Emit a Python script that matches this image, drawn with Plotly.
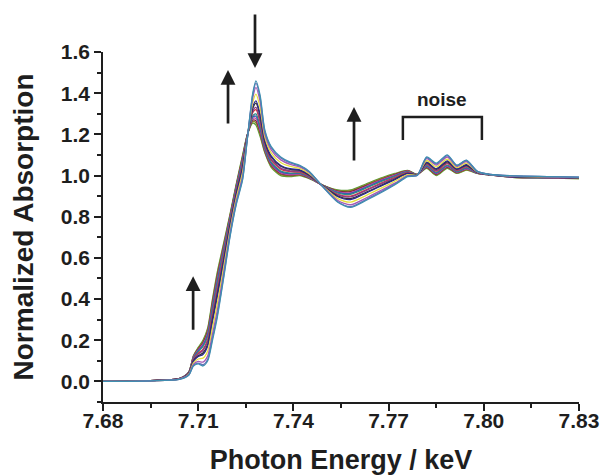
import plotly.graph_objects as go

# Photon energy grid (keV)
energy = [7.680, 7.695, 7.704, 7.707, 7.7085, 7.710, 7.7115, 7.713, 7.7145, 7.716,
          7.718, 7.720, 7.722, 7.724, 7.7255, 7.7272, 7.7282, 7.7295, 7.731, 7.733,
          7.736, 7.739, 7.742, 7.745, 7.749, 7.754, 7.758, 7.763, 7.768, 7.772,
          7.776, 7.779, 7.782, 7.785, 7.7885, 7.7915, 7.7945, 7.798, 7.802, 7.810,
          7.820, 7.830]

s01 = [0.000, 0.003, 0.010, 0.030, 0.075, 0.085, 0.075, 0.100, 0.200, 0.310, 0.500, 0.700, 0.860, 0.980, 1.180, 1.400, 1.460, 1.390, 1.220, 1.140, 1.090, 1.065, 1.050, 1.020, 0.950, 0.870, 0.845, 0.880, 0.920, 0.955, 0.995, 1.000, 1.090, 1.060, 1.100, 1.050, 1.075, 1.020, 1.005, 0.998, 0.995, 0.992]
s02 = [0.000, 0.003, 0.010, 0.031, 0.078, 0.089, 0.081, 0.108, 0.210, 0.321, 0.509, 0.706, 0.865, 0.986, 1.181, 1.393, 1.449, 1.380, 1.214, 1.135, 1.085, 1.061, 1.047, 1.018, 0.950, 0.873, 0.849, 0.884, 0.924, 0.958, 0.997, 1.000, 1.087, 1.057, 1.097, 1.048, 1.073, 1.020, 1.005, 0.998, 0.995, 0.992]
s03 = [0.000, 0.003, 0.011, 0.032, 0.083, 0.097, 0.094, 0.124, 0.230, 0.343, 0.526, 0.717, 0.875, 0.998, 1.183, 1.378, 1.428, 1.360, 1.203, 1.125, 1.076, 1.054, 1.042, 1.015, 0.951, 0.879, 0.858, 0.892, 0.931, 0.963, 1.000, 1.001, 1.082, 1.051, 1.090, 1.044, 1.068, 1.019, 1.005, 0.997, 0.994, 0.991]
s04 = [0.000, 0.003, 0.011, 0.035, 0.090, 0.109, 0.113, 0.148, 0.260, 0.376, 0.551, 0.733, 0.890, 1.016, 1.186, 1.356, 1.395, 1.330, 1.187, 1.110, 1.063, 1.044, 1.035, 1.009, 0.952, 0.888, 0.871, 0.904, 0.941, 0.972, 1.004, 1.002, 1.073, 1.042, 1.080, 1.038, 1.060, 1.017, 1.004, 0.996, 0.993, 0.990]
s05 = [0.000, 0.003, 0.012, 0.037, 0.098, 0.121, 0.131, 0.172, 0.290, 0.409, 0.577, 0.750, 0.905, 1.034, 1.189, 1.335, 1.363, 1.300, 1.170, 1.095, 1.049, 1.033, 1.027, 1.004, 0.952, 0.897, 0.883, 0.916, 0.952, 0.980, 1.009, 1.002, 1.065, 1.033, 1.071, 1.032, 1.053, 1.016, 1.004, 0.994, 0.992, 0.989]
s06 = [0.000, 0.004, 0.012, 0.038, 0.100, 0.125, 0.138, 0.180, 0.300, 0.420, 0.585, 0.755, 0.910, 1.040, 1.190, 1.327, 1.352, 1.290, 1.165, 1.090, 1.045, 1.030, 1.025, 1.002, 0.953, 0.900, 0.888, 0.920, 0.955, 0.983, 1.010, 1.003, 1.062, 1.030, 1.067, 1.030, 1.050, 1.015, 1.004, 0.994, 0.992, 0.989]
s07 = [0.000, 0.004, 0.012, 0.039, 0.105, 0.133, 0.150, 0.196, 0.320, 0.442, 0.602, 0.766, 0.920, 1.052, 1.192, 1.313, 1.331, 1.270, 1.154, 1.080, 1.036, 1.023, 1.020, 0.999, 0.953, 0.906, 0.896, 0.928, 0.962, 0.988, 1.013, 1.003, 1.057, 1.024, 1.061, 1.026, 1.046, 1.014, 1.004, 0.993, 0.991, 0.988]
s08 = [0.000, 0.004, 0.013, 0.040, 0.108, 0.137, 0.156, 0.204, 0.330, 0.453, 0.611, 0.772, 0.925, 1.058, 1.193, 1.306, 1.320, 1.260, 1.148, 1.075, 1.031, 1.019, 1.017, 0.997, 0.953, 0.909, 0.900, 0.932, 0.966, 0.991, 1.015, 1.003, 1.054, 1.021, 1.058, 1.024, 1.043, 1.014, 1.004, 0.993, 0.990, 0.987]
s09 = [0.000, 0.004, 0.013, 0.041, 0.113, 0.145, 0.169, 0.220, 0.350, 0.475, 0.628, 0.783, 0.935, 1.070, 1.195, 1.291, 1.299, 1.240, 1.137, 1.065, 1.022, 1.012, 1.012, 0.994, 0.954, 0.915, 0.909, 0.940, 0.973, 0.996, 1.018, 1.004, 1.049, 1.015, 1.051, 1.020, 1.038, 1.013, 1.004, 0.992, 0.990, 0.987]
s10 = [0.000, 0.004, 0.013, 0.042, 0.115, 0.149, 0.175, 0.228, 0.360, 0.486, 0.636, 0.788, 0.940, 1.076, 1.196, 1.284, 1.288, 1.230, 1.132, 1.060, 1.018, 1.009, 1.010, 0.992, 0.954, 0.918, 0.913, 0.944, 0.976, 0.999, 1.019, 1.004, 1.046, 1.012, 1.048, 1.018, 1.036, 1.012, 1.003, 0.992, 0.989, 0.986]
s11 = [0.000, 0.004, 0.013, 0.043, 0.118, 0.153, 0.181, 0.236, 0.370, 0.497, 0.645, 0.794, 0.945, 1.082, 1.197, 1.277, 1.277, 1.220, 1.126, 1.055, 1.013, 1.005, 1.007, 0.990, 0.954, 0.921, 0.917, 0.948, 0.980, 1.002, 1.021, 1.004, 1.043, 1.009, 1.045, 1.016, 1.033, 1.012, 1.003, 0.991, 0.989, 0.986]
s12 = [0.000, 0.004, 0.014, 0.044, 0.120, 0.157, 0.188, 0.244, 0.380, 0.508, 0.653, 0.799, 0.950, 1.088, 1.198, 1.269, 1.266, 1.210, 1.121, 1.050, 1.009, 1.002, 1.005, 0.988, 0.955, 0.924, 0.922, 0.952, 0.983, 1.005, 1.022, 1.005, 1.040, 1.006, 1.041, 1.014, 1.031, 1.011, 1.003, 0.991, 0.989, 0.986]
s13 = [0.000, 0.004, 0.014, 0.044, 0.123, 0.161, 0.194, 0.252, 0.390, 0.519, 0.662, 0.805, 0.955, 1.094, 1.199, 1.262, 1.256, 1.200, 1.115, 1.045, 1.004, 0.998, 1.002, 0.987, 0.955, 0.927, 0.926, 0.956, 0.987, 1.007, 1.024, 1.005, 1.038, 1.003, 1.038, 1.012, 1.028, 1.011, 1.003, 0.990, 0.988, 0.985]
s14 = [0.000, 0.004, 0.014, 0.045, 0.125, 0.165, 0.200, 0.260, 0.400, 0.530, 0.670, 0.810, 0.960, 1.100, 1.200, 1.255, 1.245, 1.190, 1.110, 1.040, 1.000, 0.995, 1.000, 0.985, 0.955, 0.930, 0.930, 0.960, 0.990, 1.010, 1.025, 1.005, 1.035, 1.000, 1.035, 1.010, 1.026, 1.010, 1.003, 0.990, 0.988, 0.985]

series = [s01, s02, s03, s04, s05, s06, s07, s08, s09, s10, s11, s12, s13, s14]
colors = ["#3f8fb0", "#6a6ab8", "#a45bb5", "#e6df3c", "#2b2b8c", "#333333", "#8b3c8b",
          "#d23a3a", "#2f8a8a", "#3554b8", "#c24aa6", "#7a2a3a", "#8a8a2a", "#5a9e3a"]

x_ticks = [7.68, 7.71, 7.74, 7.77, 7.80, 7.83]
y_ticks = [0.0, 0.2, 0.4, 0.6, 0.8, 1.0, 1.2, 1.4, 1.6]

FONT = "Liberation Sans, Arial, sans-serif"
INK = "#1e1e1e"

fig = go.Figure()
for vals, col in reversed(list(zip(series, colors))):
    fig.add_trace(go.Scatter(x=energy, y=vals, mode="lines",
                             line=dict(color=col, width=1.3, shape="spline", smoothing=0.7),
                             showlegend=False, hoverinfo="skip"))

axis_common = dict(showline=True, linecolor=INK, linewidth=1.5, mirror=False,
                   ticks="outside", ticklen=7, tickwidth=1.5, tickcolor=INK,
                   showgrid=False, zeroline=False, automargin=False,
                   tickfont=dict(family=FONT, size=21, color=INK, weight="bold"))

fig.update_xaxes(range=[7.68, 7.83], tickvals=x_ticks,
                 ticktext=[f"{v:.2f}" for v in x_ticks], ticklabelstandoff=-8,
                 minor=dict(ticks="outside", ticklen=4, tickwidth=1.5, tickcolor=INK,
                            tickvals=[7.695, 7.725, 7.755, 7.785, 7.815]),
                 title=dict(text="Photon Energy / keV", standoff=21,
                            font=dict(family=FONT, size=27, color=INK, weight="bold")),
                 **axis_common)
fig.update_yaxes(range=[-0.1, 1.6], tickvals=y_ticks,
                 ticktext=[f"{v:.1f}" for v in y_ticks],
                 minor=dict(ticks="outside", ticklen=4, tickwidth=1.5, tickcolor=INK,
                            tickvals=[-0.1, 0.1, 0.3, 0.5, 0.7, 0.9, 1.1, 1.3, 1.5]),
                 title=dict(text="Normalized Absorption", standoff=19,
                            font=dict(family=FONT, size=28, color=INK, weight="bold")),
                 **axis_common)

# arrows (tip positions in data coords, tails offset in pixels)
arrows = [(7.7279, 1.522, -55), (7.7194, 1.513, 55), (7.7591, 1.333, 55), (7.7084, 0.511, 55)]
for ax_x, ax_y, off in arrows:
    fig.add_annotation(x=ax_x, y=ax_y, xref="x", yref="y", text="", showarrow=True,
                       ax=0, ay=off, arrowhead=2, arrowsize=1.1, arrowwidth=2.7,
                       arrowcolor=INK)

# noise bracket
fig.add_shape(type="path", xref="x", yref="y",
              path="M 7.7745,1.172 L 7.7745,1.284 L 7.7994,1.284 L 7.7994,1.172",
              line=dict(color=INK, width=2.5))
fig.add_annotation(x=7.7868, y=1.367, xref="x", yref="y", text="noise", showarrow=False,
                   font=dict(family=FONT, size=19, color=INK, weight="bold"))

fig.update_layout(width=602, height=475, margin=dict(l=103, r=23, t=52, b=73),
                  paper_bgcolor="white", plot_bgcolor="white")

fig.write_html("out.html", config={"displayModeBar": False},
               post_script="document.body.style.margin='0';document.body.style.overflow='hidden';")
